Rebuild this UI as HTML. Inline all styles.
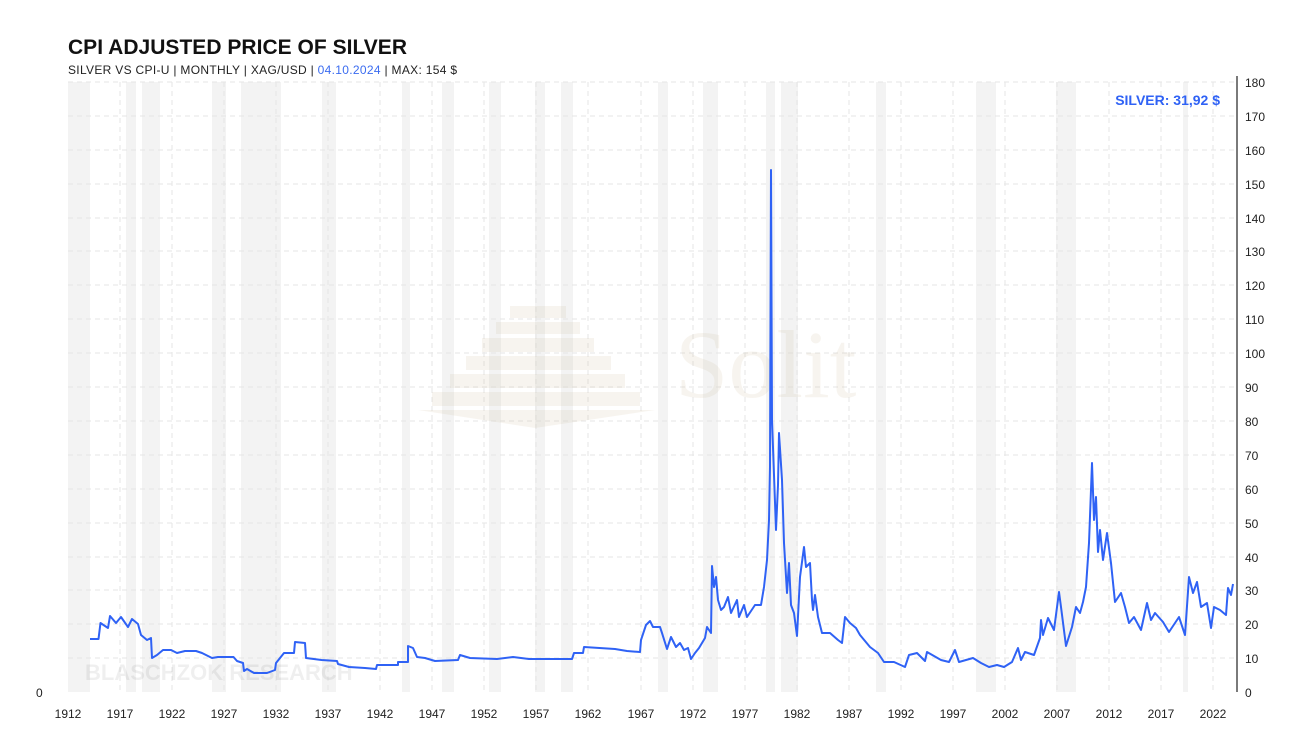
<!DOCTYPE html>
<html><head><meta charset="utf-8"><style>
body{margin:0;background:#fff;width:1307px;height:735px;overflow:hidden;font-family:"Liberation Sans",sans-serif}
</style></head><body>
<svg width="1307" height="735" viewBox="0 0 1307 735" xmlns="http://www.w3.org/2000/svg" font-family="Liberation Sans, sans-serif">
<text x="68" y="54" font-size="21" font-weight="bold" fill="#111" textLength="339">CPI ADJUSTED PRICE OF SILVER</text>
<text x="68" y="74" font-size="12" fill="#222" textLength="389">SILVER VS CPI-U | MONTHLY | XAG/USD | <tspan fill="#3b6cf0">04.10.2024</tspan>  | MAX: 154 $</text>
<g fill="#f3f3f3">
<rect x="68" y="82" width="22" height="610"/><rect x="126" y="82" width="10" height="610"/><rect x="142" y="82" width="18" height="610"/>
<rect x="212" y="82" width="14" height="610"/><rect x="241" y="82" width="40" height="610"/><rect x="322" y="82" width="14" height="610"/>
<rect x="402" y="82" width="8" height="610"/><rect x="442" y="82" width="12" height="610"/><rect x="489" y="82" width="12" height="610"/>
<rect x="535" y="82" width="10" height="610"/><rect x="561" y="82" width="12" height="610"/><rect x="658" y="82" width="10" height="610"/>
<rect x="703" y="82" width="15" height="610"/><rect x="766" y="82" width="9" height="610"/><rect x="781" y="82" width="17" height="610"/>
<rect x="876" y="82" width="10" height="610"/><rect x="976" y="82" width="20" height="610"/><rect x="1056" y="82" width="20" height="610"/>
<rect x="1183" y="82" width="5" height="610"/>
</g>
<g stroke="#e6e6e6" stroke-dasharray="5,4" stroke-width="1">
<line x1="68" x2="1237" y1="82" y2="82"/><line x1="68" x2="1237" y1="116" y2="116"/><line x1="68" x2="1237" y1="150" y2="150"/><line x1="68" x2="1237" y1="184" y2="184"/><line x1="68" x2="1237" y1="218" y2="218"/><line x1="68" x2="1237" y1="251" y2="251"/><line x1="68" x2="1237" y1="285" y2="285"/><line x1="68" x2="1237" y1="319" y2="319"/><line x1="68" x2="1237" y1="353" y2="353"/><line x1="68" x2="1237" y1="387" y2="387"/><line x1="68" x2="1237" y1="421" y2="421"/><line x1="68" x2="1237" y1="455" y2="455"/><line x1="68" x2="1237" y1="489" y2="489"/><line x1="68" x2="1237" y1="523" y2="523"/><line x1="68" x2="1237" y1="557" y2="557"/><line x1="68" x2="1237" y1="590" y2="590"/><line x1="68" x2="1237" y1="624" y2="624"/><line x1="68" x2="1237" y1="658" y2="658"/>
<line y1="82" y2="692" x1="120" x2="120"/><line y1="82" y2="692" x1="172" x2="172"/><line y1="82" y2="692" x1="224" x2="224"/><line y1="82" y2="692" x1="276" x2="276"/><line y1="82" y2="692" x1="328" x2="328"/><line y1="82" y2="692" x1="380" x2="380"/><line y1="82" y2="692" x1="432" x2="432"/><line y1="82" y2="692" x1="484" x2="484"/><line y1="82" y2="692" x1="536" x2="536"/><line y1="82" y2="692" x1="588" x2="588"/><line y1="82" y2="692" x1="641" x2="641"/><line y1="82" y2="692" x1="693" x2="693"/><line y1="82" y2="692" x1="745" x2="745"/><line y1="82" y2="692" x1="797" x2="797"/><line y1="82" y2="692" x1="849" x2="849"/><line y1="82" y2="692" x1="901" x2="901"/><line y1="82" y2="692" x1="953" x2="953"/><line y1="82" y2="692" x1="1005" x2="1005"/><line y1="82" y2="692" x1="1057" x2="1057"/><line y1="82" y2="692" x1="1109" x2="1109"/><line y1="82" y2="692" x1="1161" x2="1161"/><line y1="82" y2="692" x1="1213" x2="1213"/>
</g>
<g opacity="0.1" fill="#b8a070">
<polygon points="418,410 655,410 535,428"/>
<rect x="432" y="392" width="208" height="14"/><rect x="450" y="374" width="175" height="14"/><rect x="466" y="356" width="145" height="14"/><rect x="482" y="338" width="112" height="14"/><rect x="496" y="322" width="84" height="12"/><rect x="510" y="306" width="56" height="12"/>
<text x="675" y="397" font-family="Liberation Serif, serif" font-size="96">Solit</text>
</g>
<text x="85" y="680" font-size="22" font-weight="bold" fill="#000" opacity="0.06">BLASCHZOK RESEARCH</text>
<polyline fill="none" stroke="#2f62f5" stroke-width="2" stroke-linejoin="round" points="90,639 98.5,639 100.5,623 108,628 110,616 116,623 121,617 128,627 132,619 138,624 141,635 147,640 151,638 152,658 157,655 163,650 171,650 177,653 185,651 196,651 202,653 212,658 218,657 233.5,657 237,661 243,663 244,671 247,669 254,673 267,673 275,670 276,663 284,653 294,653 295,642 305,643 306,658 321.5,660 337,661 338,664 349,667 365,668 376,669 377,665 398,665 398,662 408,662 408,646 413,648 417,657 425,658 435,661 458,660 460,655 470,658 497,659 513,657 529,659 572,659 574,653 583,653 584,647 615,649 627,651 640,652 641,640 646,625 650,621 653,627 660,627 662,633 667,649 671,637 676,647 680,643 684,650 688,648 691,659 695,653 699,648 705,638 707,627 711,633 712,566 714,587 716,577 718,600 721,610 724,607 728,597 731,613 737,600 739,617 744,605 747,617 755,605 761,605 764,587 767,560 769,520 770,467 771,170 772,420 776,530 778,485 779,433 782,480 784,543 787,593 789,563 791,605 794,613 797,636 800,577 804,547 806,567 810,563 812,600 813,610 815,595 818,617 822,633 830,633 838,640 842,643 845,617 850,623 856,628 860,635 870,647 878,653 884,662 894,662 905,667 909,655 917,653 925,661 927,652 941,660 949,662 955,650 959,662 973,658 981,663 989,667 997,665 1004,667 1012,662 1018,648 1021,660 1025,652 1034,655 1040,638 1041,620 1043,635 1048,618 1054,630 1059,592 1061,607 1066,646 1072,627 1076,607 1080,613 1083,602 1086,587 1089,543 1092,463 1094,520 1096,497 1098,552 1100,530 1103,560 1107,533 1111,563 1115,602 1121,593 1125,607 1129,623 1134,617 1141,630 1147,603 1151,620 1155,613 1163,622 1169,632 1179,617 1185,635 1189,577 1193,593 1197,582 1201,607 1207,603 1211,628 1214,607 1220,610 1226,615 1228,588 1231,595 1233,584"/>
<line x1="1237" y1="76" x2="1237" y2="692" stroke="#222" stroke-width="1.2"/>
<g font-size="12" fill="#222">
<text x="1245" y="87">180</text><text x="1245" y="121">170</text><text x="1245" y="155">160</text><text x="1245" y="189">150</text><text x="1245" y="223">140</text><text x="1245" y="256">130</text><text x="1245" y="290">120</text><text x="1245" y="324">110</text><text x="1245" y="358">100</text><text x="1245" y="392">90</text><text x="1245" y="426">80</text><text x="1245" y="460">70</text><text x="1245" y="494">60</text><text x="1245" y="528">50</text><text x="1245" y="562">40</text><text x="1245" y="595">30</text><text x="1245" y="629">20</text><text x="1245" y="663">10</text><text x="1245" y="697">0</text>
<text x="36" y="697">0</text>
</g>
<g font-size="12" fill="#222" text-anchor="middle">
<text x="68" y="718">1912</text><text x="120" y="718">1917</text><text x="172" y="718">1922</text><text x="224" y="718">1927</text><text x="276" y="718">1932</text><text x="328" y="718">1937</text><text x="380" y="718">1942</text><text x="432" y="718">1947</text><text x="484" y="718">1952</text><text x="536" y="718">1957</text><text x="588" y="718">1962</text><text x="641" y="718">1967</text><text x="693" y="718">1972</text><text x="745" y="718">1977</text><text x="797" y="718">1982</text><text x="849" y="718">1987</text><text x="901" y="718">1992</text><text x="953" y="718">1997</text><text x="1005" y="718">2002</text><text x="1057" y="718">2007</text><text x="1109" y="718">2012</text><text x="1161" y="718">2017</text><text x="1213" y="718">2022</text>
</g>
<text x="1220" y="105" font-size="14" font-weight="bold" fill="#2f62f5" text-anchor="end">SILVER: 31,92 $</text>
</svg>
</body></html>
